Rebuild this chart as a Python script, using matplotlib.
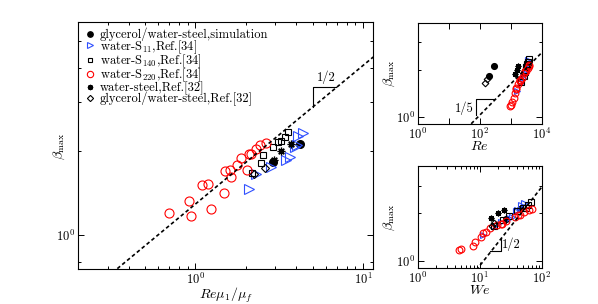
import matplotlib
matplotlib.use('Agg')
import matplotlib.pyplot as plt
from matplotlib.ticker import FixedLocator, FixedFormatter, NullFormatter

plt.rcParams['font.family'] = ['cmr10', 'DejaVu Serif']
plt.rcParams['mathtext.fontset'] = 'cm'
plt.rcParams['axes.unicode_minus'] = False

# ---------------- data ----------------
labels = ['glycerol/water-steel,simulation', 'water-S$_{11}$,Ref.[34]',
          'water-S$_{140}$,Ref.[34]', 'water-S$_{220}$,Ref.[34]',
          'water-steel,Ref.[32]', 'glycerol/water-steel,Ref.[32]']

# simulation (filled circles)
sim_x = [2.90, 4.23]
sim_re = [195, 282]
sim_we = [27, 45]
sim_beta = [1.83, 2.12]

# water-S11 (blue triangles)
s11_x = [2.10, 2.30, 2.84, 3.45, 3.65, 3.92, 4.05, 4.10, 4.40]
s11_re = [1650, 2100, 2450, 2750, 2900, 3150, 3250, 3500, 3700]
s11_we = [11.5, 17, 22, 30, 33, 38, 40, 46, 52]
s11_beta = [1.466, 1.655, 1.76, 1.866, 1.906, 2.07, 2.10, 2.27, 2.32]

# water-S140 (squares)
s140_x = [2.16, 2.47, 2.53, 2.90, 3.11, 3.26, 3.41, 3.57]
s140_re = [2200, 2600, 2900, 3150, 3300, 3400, 3600, 3900]
s140_we = [17, 24, 30, 40, 50, 55, 60, 68]
s140_beta = [1.675, 1.815, 1.934, 2.07, 2.16, 2.18, 2.25, 2.35]

# water-S220 (red circles)
s220_x = [0.70, 0.92, 0.94, 1.09, 1.19, 1.23, 1.47, 1.50, 1.60, 1.62, 1.78,
          1.88, 2.03, 2.09, 2.13, 2.30, 2.43, 2.63]
s220_re = [1000, 1230, 930, 1480, 1510, 1100, 1350, 1990, 2050, 1740, 2280,
           2750, 2060, 2980, 3080, 3550, 3800, 3980]
s220_we = [5.0, 8.4, 4.7, 11.2, 12.5, 7.8, 10.3, 19, 22, 14.5, 27,
           37, 23, 42, 45, 52, 62, 70]
s220_beta = [1.197, 1.319, 1.167, 1.507, 1.528, 1.241, 1.413, 1.693, 1.718,
             1.614, 1.779, 1.897, 1.718, 1.95, 1.96, 2.04, 2.10, 2.14]

# water-steel (asterisks)
ws_x = [2.96, 3.26, 3.73]
ws_re = [1350, 1550, 1750]
ws_we = [15.4, 19.7, 24.4]
ws_beta = [1.866, 2.0, 2.115]

# glycerol/water-steel Ref.[32] (diamonds)
gw_x = [2.22, 2.60]
gw_re = [145, 168]
gw_we = [16, 17.3]
gw_beta = [1.655, 1.74]

# scaling lines: beta = C * x^p
main_C, main_p = 1.29, 0.5
re_C, re_p = 0.408, 0.2
we_C, we_p = 0.294, 0.5

BLUE = '#3050ff'

fig = plt.figure(figsize=(5.98, 3.04), dpi=100)
ax = fig.add_axes([0.1309, 0.1141, 0.4933, 0.8135])
ax_re = fig.add_axes([0.6985, 0.5921, 0.2074, 0.3332])
ax_we = fig.add_axes([0.6985, 0.1184, 0.2074, 0.3355])


def draw(a, xs, ms_scale):
    s = ms_scale
    h = []
    h.append(a.plot(xs[0], sim_beta, 'o', color='k', ms=5.5 * s, mec='k', ls='none')[0])
    h.append(a.plot(xs[1], s11_beta, '>', mfc='none', mec=BLUE, ms=6.5 * s, mew=0.8, ls='none')[0])
    h.append(a.plot(xs[2], s140_beta, 's', mfc='none', mec='k', ms=5 * s, mew=0.8, ls='none')[0])
    h.append(a.plot(xs[3], s220_beta, 'o', mfc='none', mec='red', ms=6.5 * s, mew=0.8, ls='none')[0])
    h.append(a.plot(xs[4], ws_beta, marker=(8, 2, 0), color='k', ms=5.5 * s, mew=0.9, ls='none')[0])
    h.append(a.plot(xs[5], gw_beta, 'D', mfc='none', mec='k', ms=4.5 * s, mew=0.8, ls='none')[0])
    return h


for a in (ax, ax_re, ax_we):
    a.set_xscale('log')
    a.set_yscale('log')
    a.tick_params(which='both', direction='in', top=True, right=True,
                  labelsize=9, width=0.7, pad=2)
    a.tick_params(which='major', length=4)
    a.tick_params(which='minor', length=2.5)
    for sp in a.spines.values():
        sp.set_linewidth(0.8)

dash = (0, (2.2, 1.6))

# ---- main panel ----
handles = draw(ax, [sim_x, s11_x, s140_x, s220_x, ws_x, gw_x], 1.0)
ax.set_xlim(0.2, 11.5)
ax.set_ylim(0.75, 5.85)
xx = [0.2, 11.5]
ax.plot(xx, [main_C * v ** main_p for v in xx], color='k', ls=dash, lw=1.2)
ax.plot([5.0, 5.0, 6.9], [2.89, 3.41, 3.41], color='k', lw=0.8)
ax.text(6.0, 3.50, '1/2', ha='center', va='bottom', fontsize=9)
ax.xaxis.set_major_locator(FixedLocator([1, 10]))
ax.xaxis.set_major_formatter(FixedFormatter([r'$10^{0}$', r'$10^{1}$']))
ax.xaxis.set_minor_locator(FixedLocator([0.2, 0.3, 0.4, 0.5, 0.6, 0.7, 0.8, 0.9,
                                          2, 3, 4, 5, 6, 7, 8, 9]))
ax.xaxis.set_minor_formatter(NullFormatter())
ax.yaxis.set_major_locator(FixedLocator([1]))
ax.yaxis.set_major_formatter(FixedFormatter([r'$10^{0}$']))
ax.yaxis.set_minor_locator(FixedLocator([0.8, 2, 3, 4, 5]))
ax.yaxis.set_minor_formatter(NullFormatter())
ax.set_xlabel(r'$Re\mu_1/\mu_f$', fontsize=10, labelpad=-1)
ax.set_ylabel(r'$\beta_{\rm max}$', fontsize=10)
ax.yaxis.set_label_coords(-0.038, 0.5)
ax.legend(handles, labels, loc='upper left', frameon=False, fontsize=9,
          handletextpad=0.25, handlelength=1.0, labelspacing=-0.25,
          borderaxespad=0.05, markerscale=0.7)

# ---- Re panel ----
draw(ax_re, [sim_re, s11_re, s140_re, s220_re, ws_re, gw_re], 0.75)
ax_re.set_xlim(1, 1e4)
ax_re.set_ylim(0.9, 4)
xx = [1, 1e4]
ax_re.plot(xx, [re_C * v ** re_p for v in xx], color='k', ls=dash, lw=1.2)
ax_re.plot([78, 78, 305], [1.034, 1.308, 1.308], color='k', lw=0.8)
ax_re.text(64, 1.14, '1/5', ha='right', va='center', fontsize=9)
ax_re.xaxis.set_major_locator(FixedLocator([1, 10, 100, 1000, 1e4]))
ax_re.xaxis.set_major_formatter(FixedFormatter([r'$10^{0}$', '', r'$10^{2}$', '', r'$10^{4}$']))
ax_re.xaxis.set_minor_locator(FixedLocator([]))
ax_re.yaxis.set_major_locator(FixedLocator([1]))
ax_re.yaxis.set_major_formatter(FixedFormatter([r'$10^{0}$']))
ax_re.yaxis.set_minor_locator(FixedLocator([2, 3]))
ax_re.yaxis.set_minor_formatter(NullFormatter())
ax_re.set_xlabel(r'$Re$', fontsize=10, labelpad=-1)
ax_re.set_ylabel(r'$\beta_{\rm max}$', fontsize=10)
ax_re.yaxis.set_label_coords(-0.17, 0.5)

# ---- We panel ----
draw(ax_we, [sim_we, s11_we, s140_we, s220_we, ws_we, gw_we], 0.75)
ax_we.set_xlim(1, 100)
ax_we.set_ylim(0.9, 4)
xx = [1, 100]
ax_we.plot(xx, [we_C * v ** we_p for v in xx], color='k', ls=dash, lw=1.2)
ax_we.plot([14.5, 21.8, 21.8], [1.147, 1.147, 1.398], color='k', lw=0.8)
ax_we.text(22.8, 1.266, '1/2', ha='left', va='center', fontsize=9)
ax_we.xaxis.set_major_locator(FixedLocator([1, 10, 100]))
ax_we.xaxis.set_major_formatter(FixedFormatter([r'$10^{0}$', r'$10^{1}$', r'$10^{2}$']))
ax_we.xaxis.set_minor_locator(FixedLocator([2, 3, 4, 5, 6, 7, 8, 9,
                                             20, 30, 40, 50, 60, 70, 80, 90]))
ax_we.xaxis.set_minor_formatter(NullFormatter())
ax_we.yaxis.set_major_locator(FixedLocator([1]))
ax_we.yaxis.set_major_formatter(FixedFormatter([r'$10^{0}$']))
ax_we.yaxis.set_minor_locator(FixedLocator([2, 3]))
ax_we.yaxis.set_minor_formatter(NullFormatter())
ax_we.set_xlabel(r'$We$', fontsize=10, labelpad=-1)
ax_we.set_ylabel(r'$\beta_{\rm max}$', fontsize=10)
ax_we.yaxis.set_label_coords(-0.17, 0.5)

fig.savefig('out.png', dpi=100)
